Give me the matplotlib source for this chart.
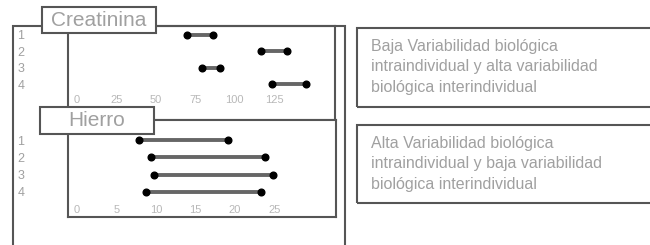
import matplotlib
matplotlib.use("Agg")
import matplotlib.pyplot as plt
from matplotlib.patches import Rectangle

plt.rcParams["font.family"] = ["Liberation Sans", "DejaVu Sans"]

# --- data ---
rows = [1, 2, 3, 4]
row_labels = ["1", "2", "3", "4"]

creat_low = [70, 117, 79, 124]
creat_high = [86, 133, 91, 145]
creat_ticks = [0, 25, 50, 75, 100, 125]

hierro_low = [7.8, 9.4, 9.8, 8.8]
hierro_high = [19.1, 23.8, 24.8, 23.3]
hierro_ticks = [0, 5, 10, 15, 20, 25]

box_texts = [
    "Baja Variabilidad biológica\nintraindividual y alta variabilidad\nbiológica interindividual",
    "Alta Variabilidad biológica\nintraindividual y baja variabilidad\nbiológica interindividual",
]

W, H = 650, 245
EDGE = "#555555"
TXT = "#a0a0a0"


def fx(px):
    return px / W


def fy(py):
    return 1 - py / H


fig = plt.figure(figsize=(W / 100, H / 100), dpi=100)


def rect(x0, y0, x1, y1, z=1, fill=False):
    r = Rectangle((fx(x0), fy(y1)), fx(x1) - fx(x0), fy(y0) - fy(y1),
                  transform=fig.transFigure, facecolor="white" if fill else "none",
                  edgecolor=EDGE, lw=1.5, zorder=z)
    fig.add_artist(r)


# outer frame (runs off the bottom)
rect(13, 26, 345, 260)


def panel(bounds, low, high, ticks, xlim, ylim, tick_row):
    ax = fig.add_axes(bounds)
    for s in ax.spines.values():
        s.set_color(EDGE)
        s.set_linewidth(1.5)
    ax.set_xlim(*xlim)
    ax.set_ylim(*ylim)
    ax.set_xticks([])
    ax.set_yticks(rows, row_labels)
    ax.tick_params(axis="y", length=0, pad=36.5, labelsize=9, labelcolor=TXT)
    for lab in ax.get_yticklabels():
        lab.set_ha("left")
    for r, lo, hi in zip(rows, low, high):
        ax.plot([lo, hi], [r, r], color="#666666", lw=2.8, solid_capstyle="butt", zorder=2)
        ax.plot([lo, hi], [r, r], "o", color="black", ms=4.8, zorder=3)
    for t in ticks:
        ax.text(t, tick_row, str(t), ha="center", va="center", fontsize=8, color="#b8b8b8")
    return ax


panel([fx(68), fy(120), fx(335) - fx(68), fy(26) - fy(120)],
      creat_low, creat_high, creat_ticks, (-5.7, 163.7), (6.2, 0.45), 5.0)
panel([fx(68), fy(217), fx(336) - fx(68), fy(120) - fy(217)],
      hierro_low, hierro_high, hierro_ticks, (-1.14, 32.8), (5.45, -0.16), 5.05)

# title boxes
for (x0, y0, x1, y1), name in [((42, 7, 156, 33), "Creatinina"), ((40, 107, 154, 134), "Hierro")]:
    rect(x0, y0, x1, y1, z=5, fill=True)
    fig.text(fx((x0 + x1) / 2), fy((y0 + y1) / 2 + 0.5), name, ha="center", va="center",
             fontsize=15, color=TXT, zorder=6)

# description boxes (run off the right edge)
for (y0, y1), txt in zip([(28, 107), (125, 203)], box_texts):
    rect(357, y0, 680, y1)
    fig.text(fx(371), fy(y0 + 11), txt, ha="left", va="top", fontsize=11.5, color=TXT,
             linespacing=1.45)

fig.savefig("out.png", dpi=100, facecolor="white")
